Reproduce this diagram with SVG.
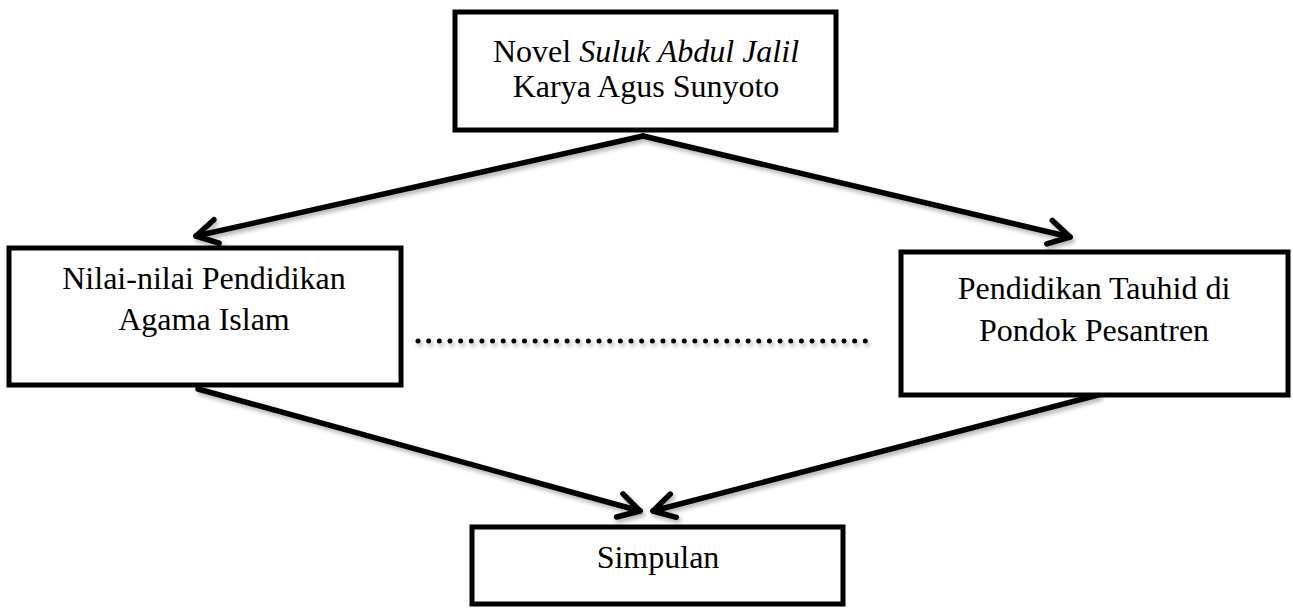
<svg xmlns="http://www.w3.org/2000/svg" width="1293" height="612" viewBox="0 0 1293 612">
<style>
.box{fill:#fff;stroke:#000;stroke-width:5}
.t{font-family:"Liberation Serif","Times New Roman",serif;font-size:32px;fill:#000;text-anchor:middle}
.c{stroke:#000;stroke-width:5.5;fill:none;stroke-linecap:round;marker-end:url(#ah)}
</style>
<defs>
<marker id="ah" markerUnits="userSpaceOnUse" markerWidth="40" markerHeight="40" refX="0" refY="0" viewBox="-30 -20 40 40" orient="auto" overflow="visible">
<path d="M-21,-12 L0,0 L-21,12" fill="none" stroke="#000" stroke-width="5.5" stroke-linecap="round" stroke-linejoin="round"/>
</marker>
<filter id="sh" x="-10%" y="-10%" width="120%" height="140%">
<feDropShadow dx="2" dy="3" stdDeviation="2" flood-color="#000" flood-opacity="0.3"/>
</filter>
</defs>
<rect width="1293" height="612" fill="#fff"/>
<g id="connectors" filter="url(#sh)">
<line class="c" x1="643" y1="136" x2="196" y2="236"/>
<line class="c" x1="643" y1="136" x2="1070" y2="237"/>
<line class="c" x1="198" y1="389" x2="640" y2="511"/>
<line class="c" x1="1098" y1="395" x2="653" y2="511"/>
<line x1="418" y1="341" x2="866" y2="341" stroke="#000" stroke-width="5" stroke-linecap="round" stroke-dasharray="0 10.65"/>
</g>
<g id="node-novel">
<rect class="box" x="455" y="12" width="381" height="118"/>
<text class="t" x="646" y="62">Novel <tspan font-style="italic">Suluk Abdul Jalil</tspan></text>
<text class="t" x="646" y="97">Karya Agus Sunyoto</text>
</g>
<g id="node-nilai">
<rect class="box" x="9" y="248" width="392" height="137"/>
<text class="t" x="204" y="289">Nilai-nilai Pendidikan</text>
<text class="t" x="204" y="330">Agama Islam</text>
</g>
<g id="node-tauhid">
<rect class="box" x="901" y="252" width="387" height="143"/>
<text class="t" x="1094" y="299">Pendidikan Tauhid di</text>
<text class="t" x="1094" y="341">Pondok Pesantren</text>
</g>
<g id="node-simpulan">
<rect class="box" x="472" y="527" width="371" height="77"/>
<text class="t" x="658" y="568">Simpulan</text>
</g>
</svg>
